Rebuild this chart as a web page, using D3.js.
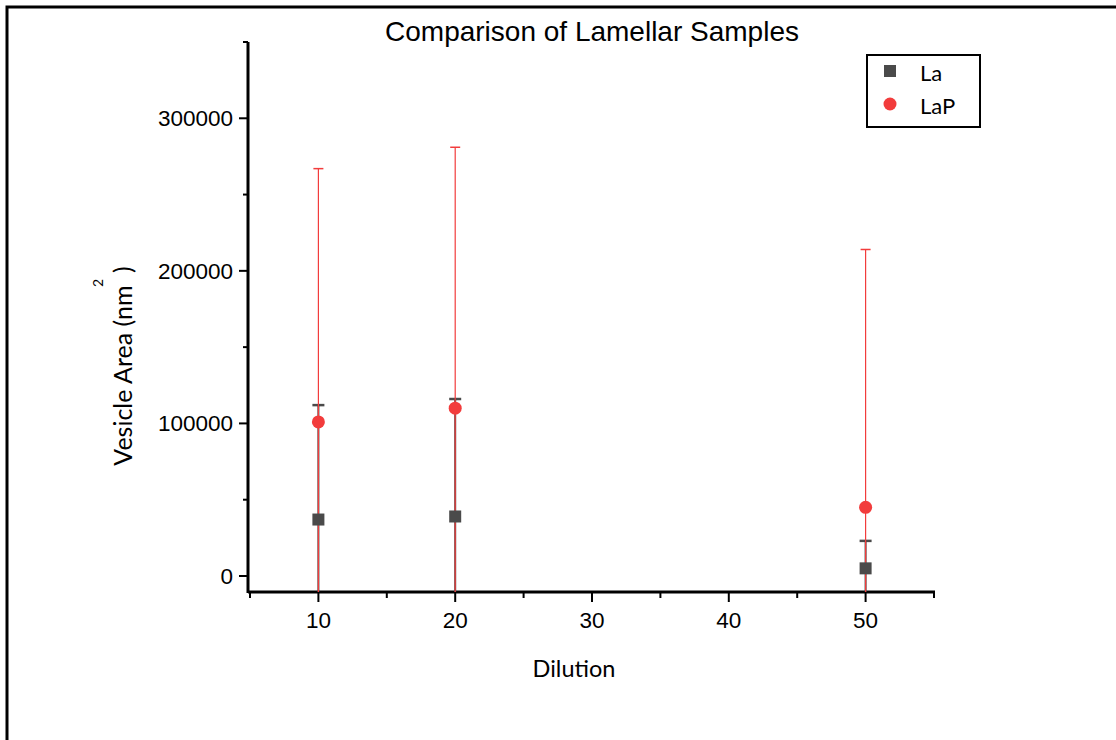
<!DOCTYPE html>
<html>
<head>
<meta charset="utf-8">
<script src="https://cdn.jsdelivr.net/npm/d3@7/dist/d3.min.js"></script>
<style>
  html, body { margin: 0; padding: 0; background: #fff; }
  svg { display: block; }
  .tick-label { font-family: "Liberation Sans", Arial, sans-serif; font-size: 22.5px; fill: #000; }
  .title { font-family: "Liberation Sans", Arial, sans-serif; font-size: 28px; fill: #000; }
  .cal { font-family: Lato, "Open Sans", sans-serif; fill: #000; }
</style>
</head>
<body>
<svg id="chart" width="1116" height="740"></svg>
<script>
// Data
const dilutions = [10, 20, 50];
const laMean = [37000, 39000, 5000];
const laErr = [75000, 77000, 18000];
const lapMean = [101000, 110000, 45000];
const lapErr = [166000, 171000, 169000];

const xMajor = [10, 20, 30, 40, 50];
const xMinor = [5, 15, 25, 35, 45, 55];
const yMajor = [0, 100000, 200000, 300000];
const yMinor = [50000, 150000, 250000, 350000];

const svg = d3.select("#chart");
const plot = { left: 248, right: 934, top: 42, bottom: 592 };

const x = d3.scaleLinear().domain([5, 55]).range([plot.left + 2, plot.right]);
const y = d3.scaleLinear().domain([-10500, 350000]).range([plot.bottom, plot.top]);

// outer frame (top and left edges only)
svg.append("path")
  .attr("d", "M7,740 V7 H1116")
  .attr("fill", "none").attr("stroke", "#000").attr("stroke-width", 3);

svg.append("text").attr("class", "title")
  .attr("x", 592).attr("y", 41).attr("text-anchor", "middle")
  .text("Comparison of Lamellar Samples");

// clip so error bars stop at axis frame
svg.append("clipPath").attr("id", "plotClip")
  .append("rect")
  .attr("x", plot.left).attr("y", 0)
  .attr("width", plot.right - plot.left).attr("height", plot.bottom);

const axisG = svg.append("g");

// y axis line + ticks
axisG.append("line")
  .attr("x1", plot.left).attr("x2", plot.left)
  .attr("y1", plot.top).attr("y2", plot.bottom + 1)
  .attr("stroke", "#000").attr("stroke-width", 3);
axisG.selectAll(".ymaj").data(yMajor).join("line")
  .attr("x1", plot.left - 9).attr("x2", plot.left)
  .attr("y1", d => y(d)).attr("y2", d => y(d))
  .attr("stroke", "#000").attr("stroke-width", 2);
axisG.selectAll(".ymin").data(yMinor).join("line")
  .attr("x1", plot.left - 5).attr("x2", plot.left)
  .attr("y1", d => y(d)).attr("y2", d => y(d))
  .attr("stroke", "#000").attr("stroke-width", 2);
axisG.selectAll(".ylab").data(yMajor).join("text")
  .attr("class", "tick-label")
  .attr("x", plot.left - 15).attr("y", d => y(d) + 8)
  .attr("text-anchor", "end")
  .text(d => d);

// x axis line + ticks
axisG.append("line")
  .attr("x1", plot.left).attr("x2", plot.right + 1)
  .attr("y1", plot.bottom).attr("y2", plot.bottom)
  .attr("stroke", "#000").attr("stroke-width", 3);
axisG.selectAll(".xmaj").data(xMajor).join("line")
  .attr("x1", d => x(d)).attr("x2", d => x(d))
  .attr("y1", plot.bottom).attr("y2", plot.bottom + 10)
  .attr("stroke", "#000").attr("stroke-width", 2);
axisG.selectAll(".xmin").data(xMinor).join("line")
  .attr("x1", d => x(d)).attr("x2", d => x(d))
  .attr("y1", plot.bottom).attr("y2", plot.bottom + 6)
  .attr("stroke", "#000").attr("stroke-width", 2);
axisG.selectAll(".xlab").data(xMajor).join("text")
  .attr("class", "tick-label")
  .attr("x", d => x(d)).attr("y", plot.bottom + 36)
  .attr("text-anchor", "middle")
  .text(d => d);

// axis titles
svg.append("text").attr("class", "cal")
  .attr("x", 574).attr("y", 677).attr("text-anchor", "middle")
  .style("font-size", "23.5px")
  .text("Dilution");

svg.append("text").attr("class", "cal")
  .attr("transform", "translate(132,366) rotate(-90)")
  .attr("text-anchor", "middle")
  .style("font-size", "25px")
  .text("Vesicle Area (nm\u2002)");
svg.append("text").attr("class", "cal")
  .attr("transform", "translate(103,283) rotate(-90)")
  .attr("text-anchor", "middle")
  .style("font-size", "14px")
  .text("2");

// series
const La = dilutions.map((d, i) => ({ x: d, v: laMean[i], e: laErr[i] }));
const LaP = dilutions.map((d, i) => ({ x: d, v: lapMean[i], e: lapErr[i] }));

const grey = "#4a4a4a";
const red = "#f23c3c";

const g = svg.append("g").attr("clip-path", "url(#plotClip)");

// La error bars
g.selectAll(".laErr").data(La).join("line")
  .attr("x1", d => x(d.x)).attr("x2", d => x(d.x))
  .attr("y1", d => y(d.v + d.e)).attr("y2", d => y(d.v - d.e))
  .attr("stroke", grey).attr("stroke-width", 2);
g.selectAll(".laCap").data(La).join("line")
  .attr("x1", d => x(d.x) - 6).attr("x2", d => x(d.x) + 6)
  .attr("y1", d => y(d.v + d.e)).attr("y2", d => y(d.v + d.e))
  .attr("stroke", grey).attr("stroke-width", 2.5);

// LaP error bars
g.selectAll(".lapErr").data(LaP).join("line")
  .attr("x1", d => x(d.x)).attr("x2", d => x(d.x))
  .attr("y1", d => y(d.v + d.e)).attr("y2", d => y(d.v - d.e))
  .attr("stroke", red).attr("stroke-width", 1.2);
g.selectAll(".lapCap").data(LaP).join("line")
  .attr("x1", d => x(d.x) - 5).attr("x2", d => x(d.x) + 5)
  .attr("y1", d => y(d.v + d.e)).attr("y2", d => y(d.v + d.e))
  .attr("stroke", red).attr("stroke-width", 1.5);

// markers
g.selectAll(".laPt").data(La).join("rect")
  .attr("x", d => x(d.x) - 6).attr("y", d => y(d.v) - 6)
  .attr("width", 12).attr("height", 12)
  .attr("fill", grey);
g.selectAll(".lapPt").data(LaP).join("circle")
  .attr("cx", d => x(d.x)).attr("cy", d => y(d.v))
  .attr("r", 6.5)
  .attr("fill", red);

// legend
const leg = svg.append("g");
leg.append("rect")
  .attr("x", 867).attr("y", 55).attr("width", 113).attr("height", 72)
  .attr("fill", "#fff").attr("stroke", "#000").attr("stroke-width", 2);
leg.append("rect")
  .attr("x", 884).attr("y", 65).attr("width", 12).attr("height", 12)
  .attr("fill", grey);
leg.append("circle")
  .attr("cx", 890).attr("cy", 104).attr("r", 6.5)
  .attr("fill", red);
leg.append("text").attr("class", "cal")
  .attr("x", 920).attr("y", 81).style("font-size", "22px").text("La");
leg.append("text").attr("class", "cal")
  .attr("x", 920).attr("y", 114).style("font-size", "22px").text("LaP");
</script>
</body>
</html>
